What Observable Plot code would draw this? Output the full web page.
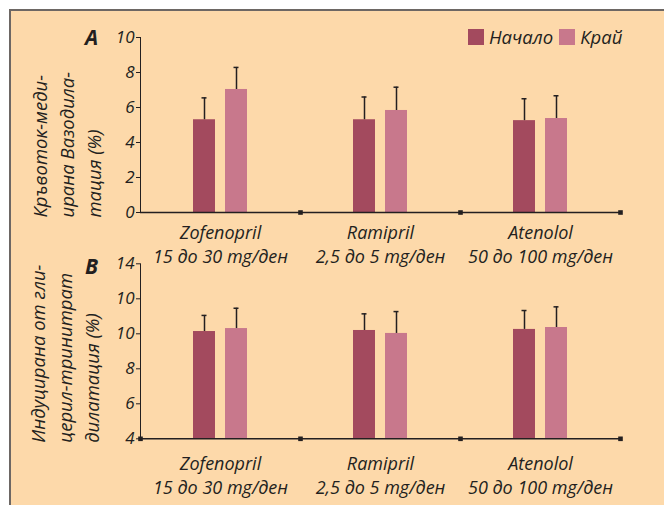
<!DOCTYPE html>
<html><head><meta charset="utf-8">
<script src="https://cdn.jsdelivr.net/npm/d3@7"></script>
<script src="https://cdn.jsdelivr.net/npm/@observablehq/plot@0.6"></script>
<style>
html,body{margin:0;padding:0;background:#fff;}
body{width:664px;height:505px;overflow:hidden;position:relative;font-family:"Open Sans",sans-serif;color:#231F20;}
#bg{position:absolute;left:9px;top:9px;width:660px;height:500px;background:#FDD9AA;border-left:2px solid #6d6764;border-top:2px solid #6d6764;}
.panel{position:absolute;left:0;}
#legend{position:absolute;left:468px;top:24px;display:flex;align-items:center;font-style:italic;font-size:18.5px;white-space:nowrap;}
#legend .sw{display:inline-block;width:16px;height:16px;margin-right:5px;}
#legend .it{display:flex;align-items:center;margin-right:6px;}
</style></head>
<body>
<div id="bg"></div>
<div id="a" class="panel" style="top:0"></div>
<div id="b" class="panel" style="top:240px"></div>
<div id="legend"></div>
<script>
const categories = ["Zofenopril", "Ramipril", "Atenolol"];
const doses = ["15 до 30 mg/ден", "2,5 до 5 mg/ден", "50 до 100 mg/ден"];
const series = ["Начало", "Край"];
const colors = ["#A34A5E", "#C8788C"];

// Panel A: flow-mediated vasodilation (%)
const aStart = [5.3, 5.3, 5.25];
const aStartUpper = [6.55, 6.6, 6.5];
const aEnd = [7.03, 5.83, 5.37];
const aEndUpper = [8.29, 7.16, 6.67];
const aTicks = [0, 2, 4, 6, 8, 10];
const aTickLabels = ["0", "2", "4", "6", "8", "10"];
const aYLabel = "Кръвоток-меди-\nирана Вазодила-\nтация (%)";

// Panel B: glyceryl-trinitrate induced dilation (%)
const bStart = [10.13, 10.19, 10.25];
const bStartUpper = [11.05, 11.14, 11.33];
const bEnd = [10.3, 10.02, 10.36];
const bEndUpper = [11.46, 11.27, 11.54];
const bTicks = [4, 6, 8, 10, 12, 14];
const bTickLabels = ["4", "6", "8", "10", "10", "14"];
const bYLabel = "Индуцирана от гли-\nцерил-тринитрат\nдилатация (%)";

const ink = "#231F20";
const font = "'Open Sans', sans-serif";

function rowsOf(start, startUp, end, endUp) {
  const rows = [];
  categories.forEach((c, i) => {
    rows.push({cat: c, series: series[0], value: start[i], upper: startUp[i]});
    rows.push({cat: c, series: series[1], value: end[i], upper: endUp[i]});
  });
  return rows;
}

function panel(o) {
  const y0 = o.ticks[0];
  return Plot.plot({
    width: 664,
    height: o.height,
    marginTop: o.marginTop,
    marginBottom: o.marginBottom,
    marginLeft: 139,
    marginRight: 44,
    style: {background: "transparent", overflow: "visible", fontFamily: font, fontSize: "17px", fontStyle: "italic", color: ink},
    fx: {domain: categories, padding: 0, axis: null},
    x: {domain: series, paddingInner: 0.303, paddingOuter: 1.58, axis: null},
    y: {domain: [y0, o.ticks[o.ticks.length - 1]], ticks: o.ticks, tickFormat: d => o.tickLabels[o.ticks.indexOf(d)], tickSize: 4, tickPadding: 2, line: true, label: null},
    color: {domain: series, range: colors},
    marks: [
      Plot.barY(o.rows, {fx: "cat", x: "series", y1: y0, y2: "value", fill: "series"}),
      Plot.ruleX(o.rows, {fx: "cat", x: "series", y1: "value", y2: "upper", stroke: ink, strokeWidth: 1.5}),
      Plot.tickY(o.rows, {fx: "cat", x: "series", y: "upper", stroke: ink, strokeWidth: 1.5, insetLeft: 8.5, insetRight: 8.5}),
      Plot.ruleY([y0], {stroke: ink, strokeWidth: 1.6}),
      Plot.dot([y0], {y: d => d, frameAnchor: "right", symbol: "square", r: 2.6, fill: ink, stroke: null}),
      ...(o.leftSquare ? [Plot.dot([{cat: categories[0], v: y0}], {fx: "cat", y: "v", frameAnchor: "left", symbol: "square", r: 2.6, fill: ink, stroke: null})] : []),
      Plot.axisFx({anchor: "bottom", tickSize: 0, tickPadding: o.fxPadding, label: null, fontSize: 18, fontStyle: "italic", lineHeight: 1.3,
        tickFormat: d => d + "\n" + doses[categories.indexOf(d)]}),
      Plot.text([{cat: categories[0], t: o.ylabel}], {fx: "cat", text: "t", frameAnchor: "bottom-left", rotate: -90, textAnchor: "start", lineAnchor: "top",
        lineHeight: 1.47, dx: o.labelDx, dy: o.labelDy, fontSize: 18.5, fontStyle: "italic", fill: ink}),
      Plot.text([{cat: categories[0], t: o.letter}], {fx: "cat", text: "t", frameAnchor: "top-left", textAnchor: "middle", lineAnchor: "middle",
        dx: -49, dy: o.letterDy, fontSize: 21, fontWeight: "bold", fontStyle: "italic", fill: ink})
    ]
  });
}

document.getElementById("a").append(panel({
  rows: rowsOf(aStart, aStartUpper, aEnd, aEndUpper),
  ticks: aTicks, tickLabels: aTickLabels, ylabel: aYLabel, letter: "A",
  height: 240, marginTop: 37, marginBottom: 28, fxPadding: 10,
  labelDx: -113, labelDy: 5, letterDy: 0.6, leftSquare: false
}));

document.getElementById("b").append(panel({
  rows: rowsOf(bStart, bStartUpper, bEnd, bEndUpper),
  ticks: bTicks, tickLabels: bTickLabels, ylabel: bYLabel, letter: "B",
  height: 265, marginTop: 23.3, marginBottom: 66.7, fxPadding: 15,
  labelDx: -115, labelDy: 4, letterDy: 3.3, leftSquare: true
}));

const legend = document.getElementById("legend");
series.forEach((s, i) => {
  const it = document.createElement("span");
  it.className = "it";
  const sw = document.createElement("span");
  sw.className = "sw";
  sw.style.background = colors[i];
  it.append(sw, document.createTextNode(s));
  legend.append(it);
});
</script>
</body></html>
